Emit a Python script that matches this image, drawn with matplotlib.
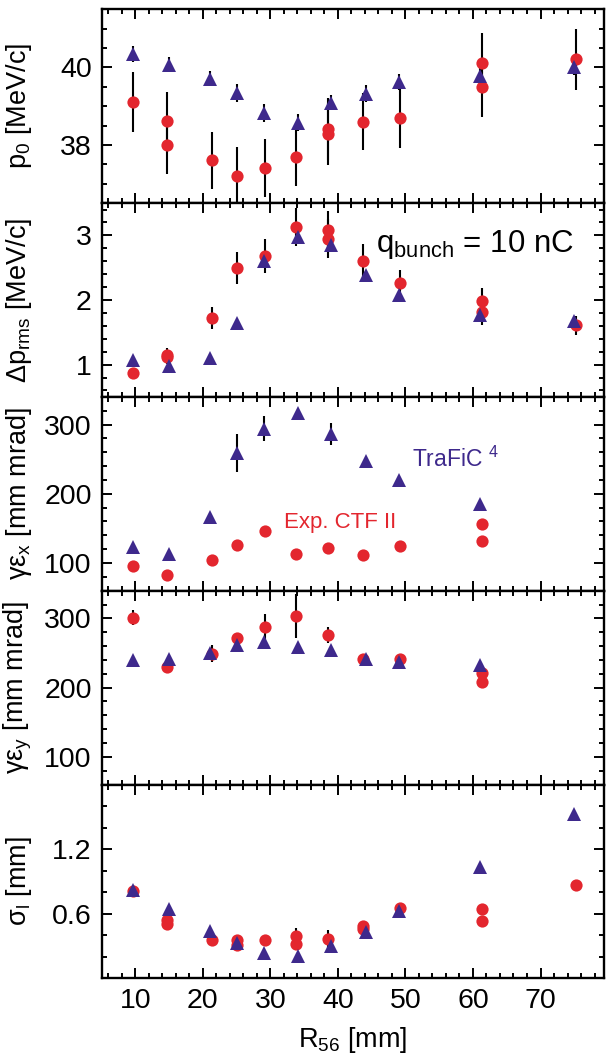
import matplotlib
matplotlib.use("Agg")
import matplotlib.pyplot as plt
from matplotlib.ticker import MultipleLocator, FixedLocator, FormatStrFormatter

plt.rcParams['font.family'] = ['Liberation Sans', 'DejaVu Sans']
plt.rcParams['mathtext.default'] = 'regular'

RED = '#E3262E'
PURPLE = '#3E298C'

# ---------------- data ----------------
# R56 positions [mm]
x_sim = [9.6, 15.0, 21.0, 25.1, 29.0, 34.1, 39.0, 44.1, 49.1, 61.0, 75.0]

# panel 1: p0 [MeV/c]
x_exp_p0 = [9.6, 14.7, 14.7, 21.3, 25.1, 29.2, 33.8, 38.5, 38.5, 43.7, 49.2, 61.4, 61.4, 75.3]
exp_p0 = [39.10, 38.61, 38.00, 37.60, 37.21, 37.40, 37.70, 38.40, 38.29, 38.60, 38.70, 40.11, 39.50, 40.21]
exp_p0_err = [0.77, 0.75, 0.75, 0.74, 0.74, 0.75, 0.75, 0.80, 0.80, 0.73, 0.77, 0.78, 0.78, 0.78]
sim_p0 = [40.35, 40.07, 39.71, 39.34, 38.83, 38.57, 39.09, 39.32, 39.62, 39.78, 40.00]
sim_p0_err = [0.20, 0.20, 0.20, 0.22, 0.23, 0.22, 0.20, 0.22, 0.20, 0.20, 0.20]

# panel 2: delta p rms [MeV/c]
x_exp_dp = [9.6, 14.7, 14.7, 21.3, 25.1, 29.2, 33.8, 38.5, 38.5, 43.7, 49.2, 61.4, 61.4, 75.3]
exp_dp = [0.87, 1.15, 1.11, 1.72, 2.50, 2.68, 3.13, 3.08, 2.95, 2.61, 2.26, 1.99, 1.81, 1.61]
exp_dp_err = [0.03, 0.10, 0.10, 0.17, 0.25, 0.26, 0.30, 0.30, 0.30, 0.25, 0.20, 0.19, 0.19, 0.15]
sim_dp = [1.07, 0.98, 1.10, 1.64, 2.60, 2.98, 2.85, 2.38, 2.07, 1.77, 1.67]
sim_dp_err = [0.03] * 11

# panel 3: gamma eps_x [mm mrad]
x_exp_ex = [9.6, 14.7, 21.3, 25.1, 29.2, 33.8, 38.5, 43.7, 49.2, 61.4, 61.4]
exp_ex = [95, 82, 104, 126, 146, 113, 122, 111, 124, 157, 132]
exp_ex_err = [3] * 11
x_sim_ex = [9.6, 15.0, 21.0, 25.1, 29.0, 34.1, 39.0, 44.1, 49.1, 61.0]
sim_ex = [123, 113, 166, 259, 294, 317, 286, 248, 220, 185]
sim_ex_err = [3, 3, 3, 28, 18, 5, 16, 3, 3, 3]

# panel 4: gamma eps_y [mm mrad]
x_exp_ey = [9.6, 14.7, 21.3, 25.1, 29.2, 33.8, 38.5, 43.7, 49.2, 61.4, 61.4]
exp_ey = [301, 230, 249, 271, 287, 303, 276, 241, 241, 221, 208]
exp_ey_err = [11, 4, 12, 4, 19, 32, 11, 3, 3, 3, 3]
x_sim_ey = [9.6, 15.0, 21.0, 25.1, 29.0, 34.1, 39.0, 44.1, 49.1, 61.0]
sim_ey = [240, 242, 250, 261, 266, 258, 254, 242, 237, 232]
sim_ey_err = [3] * 10

# panel 5: sigma_l [mm]
x_exp_sl = [9.6, 14.7, 14.7, 21.3, 25.1, 25.1, 29.2, 33.8, 33.8, 38.5, 43.7, 43.7, 49.2, 61.4, 61.4, 75.3]
exp_sl = [0.815, 0.538, 0.508, 0.354, 0.360, 0.308, 0.354, 0.390, 0.320, 0.366, 0.483, 0.462, 0.652, 0.646, 0.529, 0.868]
exp_sl_err = [0.02, 0.02, 0.02, 0.02, 0.02, 0.02, 0.02, 0.08, 0.02, 0.08, 0.02, 0.02, 0.02, 0.02, 0.02, 0.02]
sim_sl = [0.820, 0.646, 0.443, 0.330, 0.237, 0.206, 0.298, 0.428, 0.628, 1.037, 1.529]
sim_sl_err = [0.01] * 11

ylabels = ["p$_0$ [MeV/c]", "Δp$_{rms}$ [MeV/c]", "γε$_x$ [mm mrad]",
           "γε$_y$ [mm mrad]", "σ$_l$ [mm]"]
xlabel = "R$_{56}$ [mm]"
xticks = [10, 20, 30, 40, 50, 60, 70]

# ---------------- figure ----------------
W, H = 606, 1057
fig = plt.figure(figsize=(W / 100, H / 100), dpi=100)

left = 101.5 / W
right = 604.0 / W
top = 1 - 9.3 / H
bottom = 1 - 978.3 / H
ph = (top - bottom) / 5

panels = [
    dict(xe=x_exp_p0, ye=exp_p0, ee=exp_p0_err, xs=x_sim, ys=sim_p0, es=sim_p0_err,
         ylim=(36.5, 41.5), major=[38, 40], minor=0.5, fmt="%d"),
    dict(xe=x_exp_dp, ye=exp_dp, ee=exp_dp_err, xs=x_sim, ys=sim_dp, es=sim_dp_err,
         ylim=(0.5, 3.5), major=[1, 2, 3], minor=0.2, fmt="%d"),
    dict(xe=x_exp_ex, ye=exp_ex, ee=exp_ex_err, xs=x_sim_ex, ys=sim_ex, es=sim_ex_err,
         ylim=(60, 340), major=[100, 200, 300], minor=20, fmt="%d"),
    dict(xe=x_exp_ey, ye=exp_ey, ee=exp_ey_err, xs=x_sim_ey, ys=sim_ey, es=sim_ey_err,
         ylim=(60, 340), major=[100, 200, 300], minor=20, fmt="%d"),
    dict(xe=x_exp_sl, ye=exp_sl, ee=exp_sl_err, xs=x_sim, ys=sim_sl, es=sim_sl_err,
         ylim=(0, 1.8), major=[0.6, 1.2], minor=0.2, fmt="%.1f"),
]

TICK_FS = 20.5
LABEL_FS = 19.5

axes = []
for i, p in enumerate(panels):
    ax = fig.add_axes([left, top - (i + 1) * ph, right - left, ph])
    axes.append(ax)
    ax.errorbar(p['xe'], p['ye'], yerr=p['ee'], fmt='none', ecolor='black',
                elinewidth=1.5, capsize=0, zorder=2)
    ax.errorbar(p['xs'], p['ys'], yerr=p['es'], fmt='none', ecolor='black',
                elinewidth=1.5, capsize=0, zorder=2)
    ax.plot(p['xe'], p['ye'], 'o', color=RED, markersize=8.8, markeredgewidth=0, zorder=3)
    ax.plot(p['xs'], p['ys'], '^', color=PURPLE, markersize=9.6, markeredgewidth=0, zorder=4)

    ax.set_xlim(5, 79.4)
    ax.set_ylim(*p['ylim'])
    ax.xaxis.set_major_locator(FixedLocator(xticks))
    ax.xaxis.set_minor_locator(MultipleLocator(2))
    ax.yaxis.set_major_locator(FixedLocator(p['major']))
    ax.yaxis.set_minor_locator(MultipleLocator(p['minor']))
    ax.yaxis.set_major_formatter(FormatStrFormatter(p['fmt']))
    ax.tick_params(which='both', direction='in', top=True, right=True, width=1.4,
                   labelsize=TICK_FS, pad=7)
    ax.tick_params(which='major', length=7.5)
    ax.tick_params(which='minor', length=3.8)
    for s in ax.spines.values():
        s.set_linewidth(1.7)
    ax.set_ylabel(ylabels[i], fontsize=LABEL_FS)
    ax.yaxis.set_label_coords(-0.135, 0.5)
    if i < 4:
        ax.tick_params(labelbottom=False)

axes[-1].set_xlabel(xlabel, fontsize=LABEL_FS, labelpad=8)

axes[1].text(0.546, 0.785, "q$_{bunch}$ = 10 nC", transform=axes[1].transAxes,
             fontsize=22.5, ha='left', va='center')
axes[2].text(0.618, 0.677, "TraFiC $^{4}$", transform=axes[2].transAxes,
             fontsize=16.5, ha='left', va='center', color=PURPLE)
axes[2].text(0.363, 0.351, "Exp. CTF II", transform=axes[2].transAxes,
             fontsize=16, ha='left', va='center', color=RED)

fig.savefig("out.png", dpi=100)
